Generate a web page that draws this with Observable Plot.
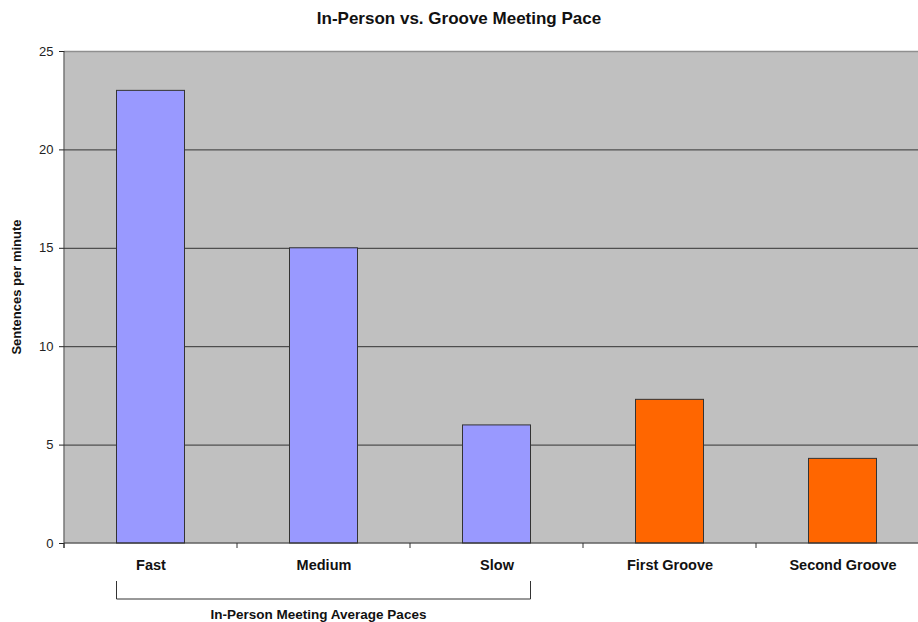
<!DOCTYPE html>
<html>
<head>
<meta charset="utf-8">
<script src="https://cdn.jsdelivr.net/npm/d3@7"></script>
<script src="https://cdn.jsdelivr.net/npm/@observablehq/plot@0.6"></script>
<style>
  body { margin: 0; background: #fff; overflow: hidden; }
  #chart svg { overflow: hidden; }
</style>
</head>
<body>
<div id="chart"></div>
<script>
// Meeting pace, in sentences per minute
const categories = ["Fast", "Medium", "Slow", "First Groove", "Second Groove"];
const pace = [23, 15, 6, 7.3, 4.3];
const groups = ["In-Person", "In-Person", "In-Person", "Groove", "Groove"];
const groupNames = ["In-Person", "Groove"];
const groupColors = ["#9999ff", "#ff6600"];
const yTicks = [0, 5, 10, 15, 20, 25];
const gridLines = [5, 10, 15, 20];
const title = "In-Person vs. Groove Meeting Pace";
const yLabel = "Sentences per minute";
const bracketLabel = "In-Person Meeting Average Paces";
const bracketSpan = ["Fast", "Slow"];

const data = categories.map((c, i) => ({category: c, pace: pace[i], group: groups[i]}));

const font = "'Liberation Sans', Arial, Helvetica, sans-serif";
const barInset = 52.5;

// Axis lines, category dividers, titles and the bracket under the in-person bars
function frameAndBracket(index, scales, values, dims) {
  const x = scales.x, y = scales.y;
  const n = categories.length;
  const bw = x.bandwidth ? x.bandwidth() : (dims.width - dims.marginLeft - dims.marginRight) / n;
  const bottom = y(0), top = y(25);
  const left = x(categories[0]);
  const right = x(categories[n - 1]) + bw;
  const g = d3.create("svg:g").attr("fill", "none").attr("stroke", "#333").attr("stroke-width", 1);
  // left axis line and baseline
  g.append("line").attr("x1", left).attr("x2", left).attr("y1", top).attr("y2", bottom + 5);
  g.append("line").attr("x1", left).attr("x2", right).attr("y1", bottom).attr("y2", bottom);
  // ticks at band boundaries
  for (const c of categories) {
    const bx = x(c);
    g.append("line").attr("x1", bx).attr("x2", bx).attr("y1", bottom).attr("y2", bottom + 5);
  }
  // bracket
  const bl = x(bracketSpan[0]) + barInset;
  const br = x(bracketSpan[1]) + bw - barInset;
  const by0 = bottom + 38, by1 = bottom + 56;
  g.append("path").attr("d", `M${bl},${by0}V${by1}H${br}V${by0}`);

  const txt = g.append("g").attr("stroke", "none").attr("fill", "#111")
    .attr("font-family", font).attr("font-weight", "bold").attr("text-anchor", "middle");
  txt.append("text")
    .attr("x", (bl + br) / 2 - 5)
    .attr("y", by1 + 20)
    .attr("font-size", 13.5)
    .text(bracketLabel);
  // chart title, centred on the whole figure
  txt.append("text")
    .attr("x", dims.width / 2)
    .attr("y", 24)
    .attr("font-size", 17)
    .text(title);
  // vertical axis title
  txt.append("text")
    .attr("transform", `translate(${left - 43},${(top + bottom) / 2 - 10}) rotate(-90)`)
    .attr("font-size", 13)
    .text(yLabel);
  return g.node();
}

const chart = Plot.plot({
  width: 918,
  height: 622,
  marginLeft: 64,
  marginRight: -11,
  marginTop: 51,
  marginBottom: 79,
  style: {fontFamily: font, background: "#fff", overflow: "hidden"},
  x: {domain: categories, padding: 0, axis: null},
  y: {domain: [0, 25], axis: null},
  color: {domain: groupNames, range: groupColors},
  marks: [
    Plot.frame({fill: "#c0c0c0", stroke: null}),
    Plot.ruleY([25], {stroke: "#8f8f8f", strokeWidth: 1.5}),
    Plot.ruleY(gridLines, {stroke: "#333", strokeWidth: 1}),
    Plot.barY(data, {
      x: "category", y: "pace", fill: "group",
      stroke: "#333", strokeWidth: 1,
      insetLeft: barInset, insetRight: barInset
    }),
    Plot.axisY({
      ticks: yTicks, tickSize: 5, tickPadding: 6, label: null,
      fontSize: 13, color: "#222"
    }),
    Plot.axisX({
      tickSize: 0, tickPadding: 16, label: null,
      fontSize: 14.5, fontWeight: "bold", color: "#111"
    }),
    frameAndBracket
  ]
});

document.getElementById("chart").appendChild(chart);
</script>
</body>
</html>
